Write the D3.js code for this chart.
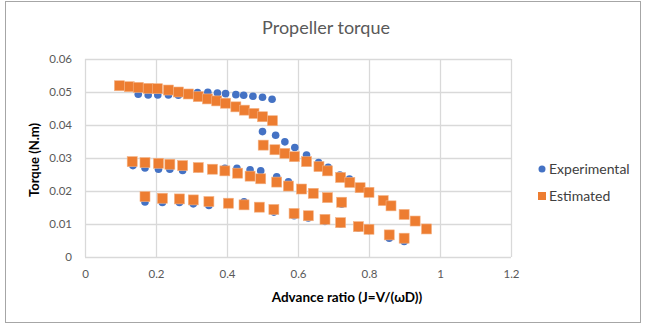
<!DOCTYPE html>
<html lang="en">
<head>
    <meta charset="UTF-8">
    <title>Propeller torque</title>
    <style>
        body{ margin: 0; background: #fff; }
        svg text{ font-family: Lato, "Open Sans", sans-serif; }
    </style>
</head>
<body>
<script src="https://cdn.jsdelivr.net/npm/d3@7/dist/d3.min.js"></script>
<div id="chart"></div>
<script>
    var width = 646, height = 327;
    var plotLeft = 85, plotRight = 511, plotTop = 59, plotBottom = 257;

    // experimental points (blue circles)
    var expJ = [0.150,0.178,0.205,0.235,0.263,0.291,0.317,0.346,0.373,0.396,0.425,0.447,0.473,0.500,0.527,
        0.500,0.537,0.563,0.591,0.624,0.658,0.685,0.718,0.745,
        0.135,0.169,0.207,0.239,0.275,0.319,0.359,0.394,0.428,0.465,0.495,0.540,0.573,0.610,0.643,0.683,0.723,
        0.169,0.218,0.266,0.305,0.349,0.404,0.448,0.491,0.532,0.589,0.629,0.676,0.720,0.770,0.800,0.857,0.899];
    var expT = [0.0493,0.0491,0.0491,0.0491,0.0490,0.0492,0.0498,0.0499,0.0497,0.0495,0.0492,0.0490,0.0487,0.0484,0.0478,
        0.0380,0.0369,0.0349,0.0332,0.0309,0.0286,0.0272,0.0248,0.0236,
        0.0277,0.0270,0.0266,0.0266,0.0262,0.0268,0.0267,0.0269,0.0269,0.0264,0.0261,0.0243,0.0228,0.0205,0.0192,0.0179,0.0160,
        0.0167,0.0165,0.0165,0.0161,0.0156,0.0162,0.0167,0.0150,0.0136,0.0125,0.0118,0.0108,0.0100,0.0088,0.0080,0.0057,0.0047];

    // estimated points (orange squares)
    var estJ = [0.097,0.125,0.150,0.178,0.204,0.235,0.263,0.291,0.319,0.345,0.371,0.396,0.425,0.449,0.476,0.500,0.528,
        0.502,0.535,0.563,0.590,0.624,0.659,0.683,0.720,0.746,0.775,0.800,0.840,0.862,0.899,0.930,0.962,
        0.133,0.169,0.207,0.239,0.275,0.319,0.359,0.394,0.430,0.465,0.495,0.540,0.573,0.610,0.643,0.683,0.723,
        0.169,0.218,0.266,0.305,0.349,0.404,0.448,0.491,0.532,0.589,0.629,0.676,0.720,0.770,0.800,0.857,0.899];
    var estT = [0.0519,0.0516,0.0514,0.0511,0.0510,0.0506,0.0500,0.0494,0.0486,0.0479,0.0473,0.0466,0.0455,0.0445,0.0435,0.0425,0.0413,
        0.0339,0.0325,0.0314,0.0304,0.0289,0.0274,0.0261,0.0241,0.0226,0.0210,0.0196,0.0171,0.0155,0.0129,0.0109,0.0085,
        0.0289,0.0286,0.0284,0.0281,0.0277,0.0271,0.0266,0.0261,0.0254,0.0245,0.0237,0.0227,0.0215,0.0206,0.0193,0.0180,0.0166,
        0.0183,0.0178,0.0176,0.0173,0.0168,0.0163,0.0158,0.0151,0.0144,0.0132,0.0125,0.0114,0.0104,0.0092,0.0084,0.0067,0.0057];

    var xTicks = [0, 0.2, 0.4, 0.6, 0.8, 1, 1.2];
    var yTicks = [0, 0.01, 0.02, 0.03, 0.04, 0.05, 0.06];

    var svg = d3.select("#chart").append("svg")
        .attr("width", width).attr("height", height);

    // outer chart border
    svg.append("rect")
        .attr("x", 5.5).attr("y", 1.5).attr("width", 635).attr("height", 321)
        .attr("fill", "#fff").attr("stroke", "#a6a6a6");

    var x = d3.scaleLinear().domain([0, 1.2]).range([plotLeft, plotRight]);
    var y = d3.scaleLinear().domain([0, 0.06]).range([plotBottom, plotTop]);

    // gridlines
    svg.append("g").selectAll("line").data(yTicks).enter().append("line")
        .attr("x1", plotLeft).attr("x2", plotRight)
        .attr("y1", function (d) { return Math.round(y(d)) + 0.5; })
        .attr("y2", function (d) { return Math.round(y(d)) + 0.5; })
        .attr("stroke", "#d9d9d9").attr("stroke-width", 1.3);
    svg.append("g").selectAll("line").data(xTicks).enter().append("line")
        .attr("y1", plotTop).attr("y2", plotBottom)
        .attr("x1", function (d) { return Math.round(x(d)) + 0.5; })
        .attr("x2", function (d) { return Math.round(x(d)) + 0.5; })
        .attr("stroke", "#d9d9d9").attr("stroke-width", 1.3);

    // axes (labels only, Excel style)
    var xAxis = svg.append("g").attr("transform", "translate(0," + (plotBottom + 10) + ")")
        .call(d3.axisBottom(x).tickValues(xTicks).tickSize(0).tickFormat(d3.format("")));
    var yAxis = svg.append("g").attr("transform", "translate(" + (plotLeft - 10) + ",0)")
        .call(d3.axisLeft(y).tickValues(yTicks).tickSize(0).tickFormat(function (d) { return d === 0 ? "0" : d.toFixed(2); }));
    [xAxis, yAxis].forEach(function (a) {
        a.select(".domain").remove();
        a.selectAll("text").attr("fill", "#595959").style("font-size", "11.5px")
            .style("font-family", "Lato, sans-serif");
    });

    // series
    svg.append("g").selectAll("circle").data(expJ).enter().append("circle")
        .attr("cx", function (d) { return x(d); })
        .attr("cy", function (d, i) { return y(expT[i]); })
        .attr("r", 3.8)
        .attr("fill", "#4472c4");
    svg.append("g").selectAll("rect").data(estJ).enter().append("rect")
        .attr("x", function (d) { return x(d) - 5; })
        .attr("y", function (d, i) { return y(estT[i]) - 5; })
        .attr("width", 10).attr("height", 10)
        .attr("fill", "#ed7d31").attr("stroke", "#f4b183").attr("stroke-width", 0.6);

    // titles
    svg.append("text").attr("x", 326).attr("y", 34).attr("text-anchor", "middle")
        .attr("fill", "#595959").style("font-size", "18px").text("Propeller torque");
    svg.append("text").attr("x", 347).attr("y", 302).attr("text-anchor", "middle")
        .attr("fill", "#000").style("font-size", "13.5px").style("font-weight", "bold")
        .text("Advance ratio (J=V/(ωD))");
    svg.append("text").attr("transform", "translate(39,160)rotate(-90)").attr("text-anchor", "middle")
        .attr("fill", "#000").style("font-size", "13px").style("font-weight", "bold")
        .text("Torque (N.m)");

    // legend
    var legend = svg.append("g");
    legend.append("circle").attr("cx", 542).attr("cy", 169).attr("r", 3.5).attr("fill", "#4472c4");
    legend.append("text").attr("x", 549).attr("y", 174).attr("fill", "#404040")
        .style("font-size", "14px").text("Experimental");
    legend.append("rect").attr("x", 538).attr("y", 192).attr("width", 8).attr("height", 8).attr("fill", "#ed7d31");
    legend.append("text").attr("x", 549).attr("y", 201).attr("fill", "#404040")
        .style("font-size", "14px").text("Estimated");
</script>
</body>
</html>
